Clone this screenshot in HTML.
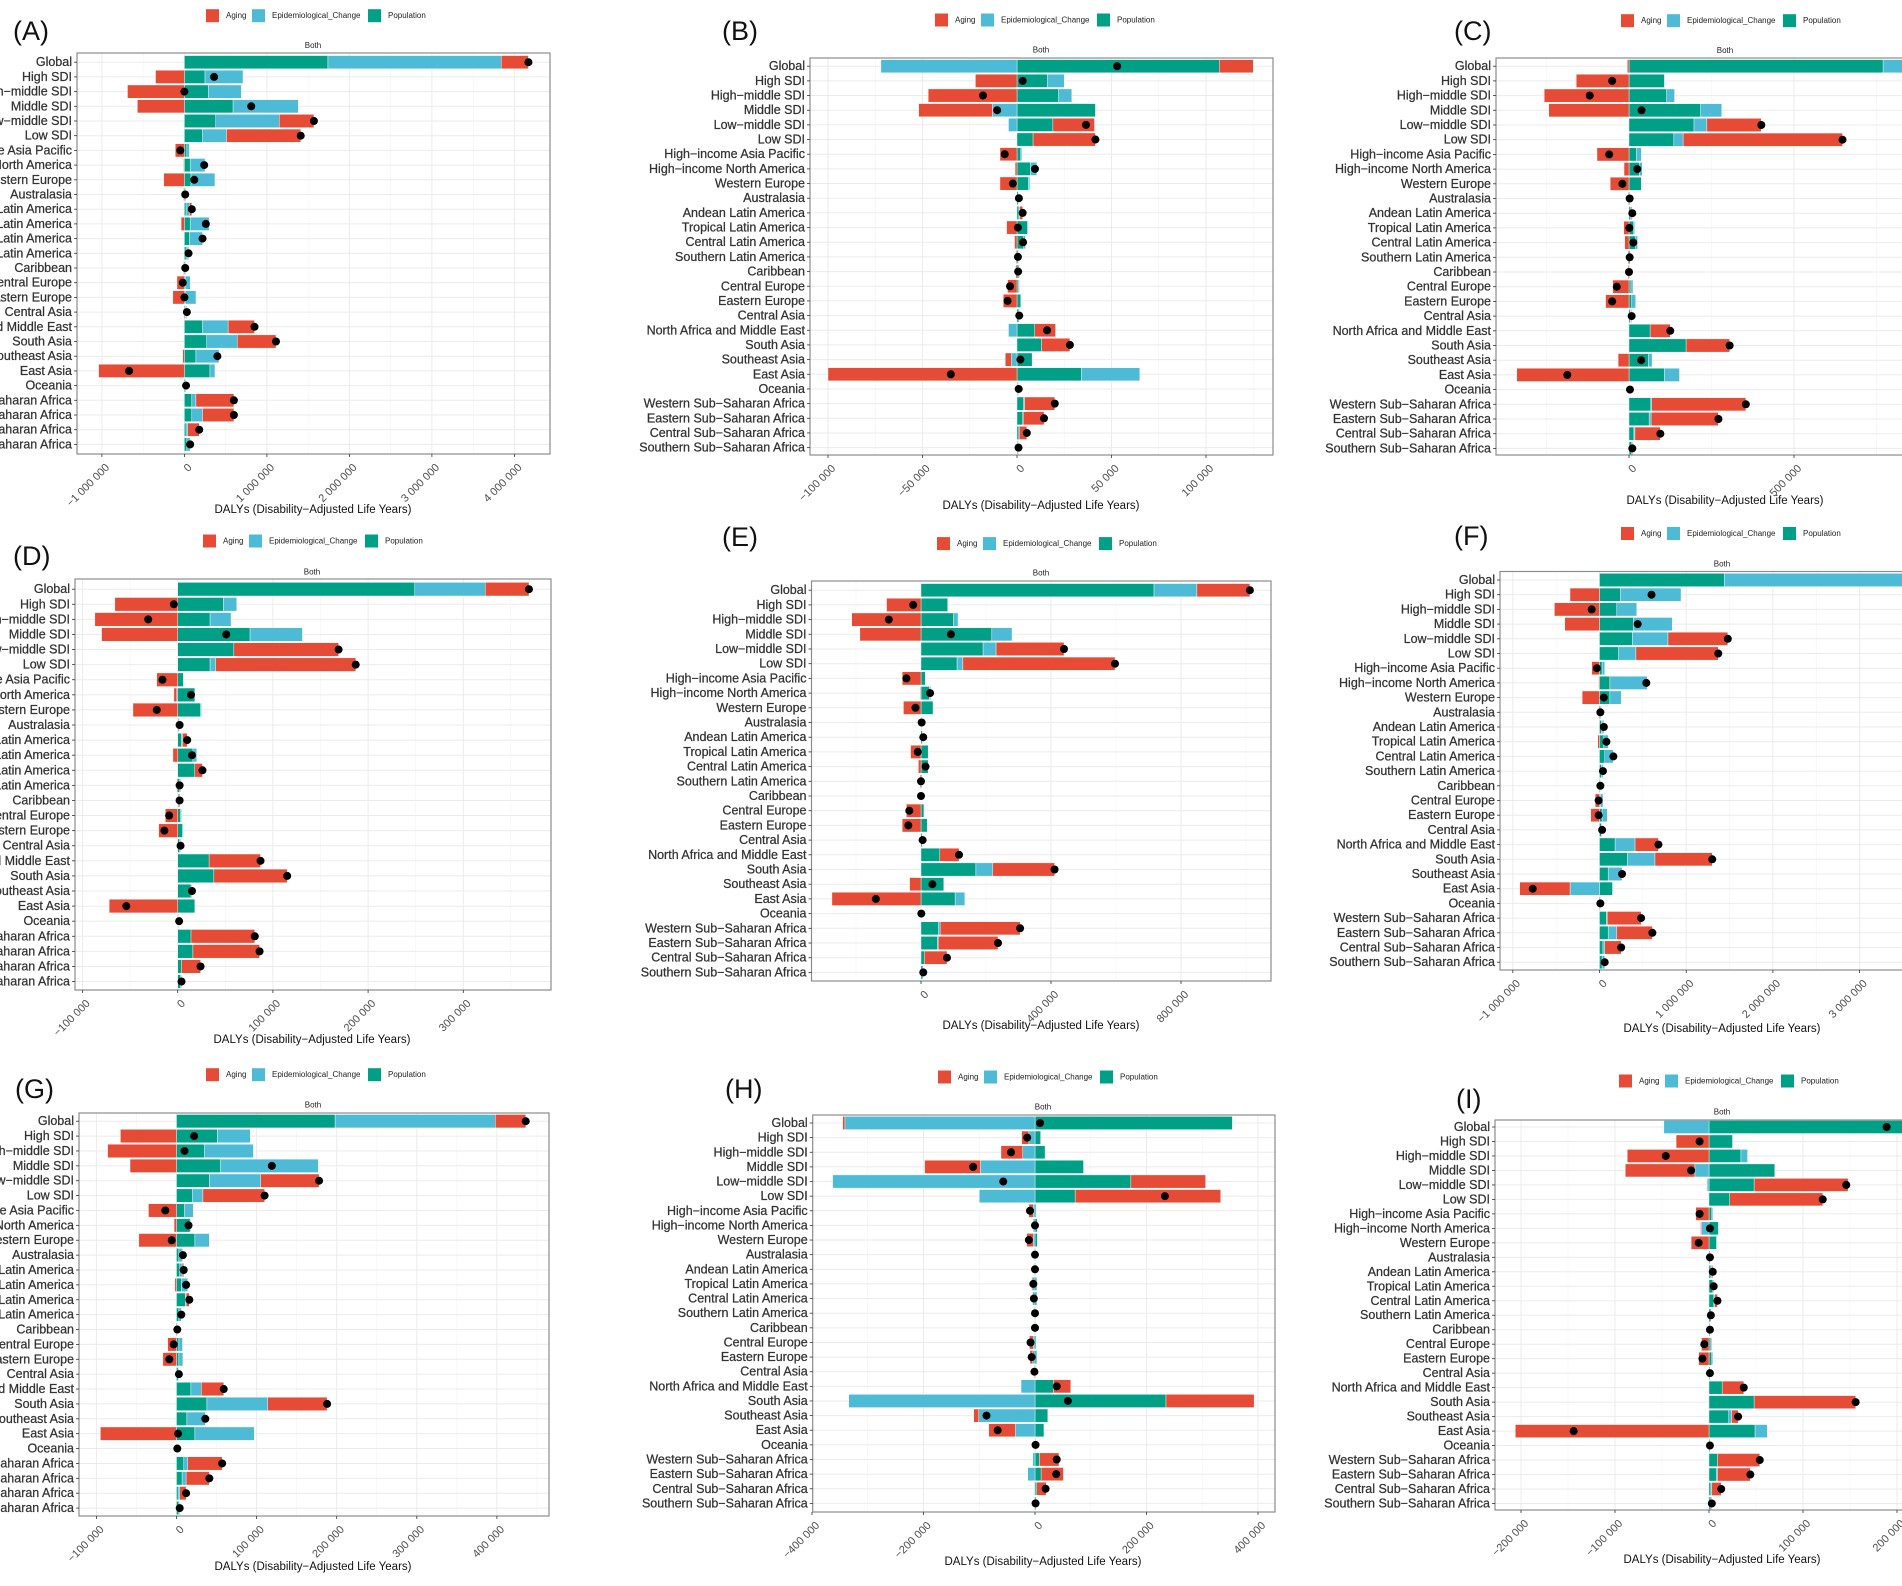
<!DOCTYPE html>
<html><head><meta charset="utf-8"><title>Decomposition of DALYs</title>
<style>
html,body{margin:0;padding:0;background:#fff;}
svg{display:block;font-family:"Liberation Sans",sans-serif;}
</style></head>
<body>
<svg id="fig" width="1902" height="1586" viewBox="0 0 1902 1586" xmlns="http://www.w3.org/2000/svg"></svg>
<script>
const regions=["Global","High SDI","High−middle SDI","Middle SDI","Low−middle SDI","Low SDI","High−income Asia Pacific","High−income North America","Western Europe","Australasia","Andean Latin America","Tropical Latin America","Central Latin America","Southern Latin America","Caribbean","Central Europe","Eastern Europe","Central Asia","North Africa and Middle East","South Asia","Southeast Asia","East Asia","Oceania","Western Sub−Saharan Africa","Eastern Sub−Saharan Africa","Central Sub−Saharan Africa","Southern Sub−Saharan Africa"];
const seriesNames=["Aging","Epidemiological_Change","Population"];

const popA=[1.74,.25,.29,.59,.38,.22,.03,.07,.08,.01,.02,.07,.06,.02,.01,.01,.01,.01,.22,.27,.14,.31,.01,.09,.09,.02,.03];
const epiA=[2.10,.46,.40,.79,.77,.29,.03,.18,.29,.01,.04,.23,.16,.02,.01,.06,.13,.01,.31,.37,.28,.06,.01,.05,.13,.02,.04];
const agingA=[.33,-.35,-.69,-.57,.42,.90,-.11,-.01,-.25,-.01,.03,-.04,0,.01,-.01,-.09,-.14,.01,.32,.47,-.02,-1.04,0,.46,.38,.14,0];
const ticksA=[-1,0,1,2,3,4];
const tickLabelsA=["−1 000 000","0","1 000 000","2 000 000","3 000 000","4 000 000"];

const popB=[107,16,22,41.5,19,8.5,2,7,6,.7,1,5.5,3.5,.8,1,.8,2,1,9.4,13,8,34,.4,3.5,3,1,.5];
const epiB=[-72,9,7,-13,-4.5,0,.5,3.5,.8,.3,.5,.5,1,.2,.3,.5,.3,.2,-4.5,0,-3,31,.2,.5,.3,.2,.3];
const agingB=[18,-22,-47,-39,22,33,-9,-1,-9,0,1.5,-5.5,-1.3,-.5,-.7,-5,-7.3,0,11,15,-3.2,-100,.3,16,11,4,0];
const ticksB=[-100,-50,0,50,100];
const tickLabelsB=["−100 000","−50 000","0","50 000","100 000"];

const popC=[770,107,114,217,197,136,22,31,37,3,5,14,20,4,2,6,8,4,64,173,59,107,1,66,61,15,8];
const epiC=[200,2,24,64,39,28,15,9,0,1,2,3,6,1,1,6,12,2,0,0,11,46,1,3,6,3,3];
const agingC=[-5,-160,-257,-243,165,483,-97,-15,-57,-2,3,-16,-13,-3,-3,-49,-71,2,61,132,-33,-340,1,285,204,77,-1];
const ticksC=[0,500,1000];
const tickLabelsC=["0","500 000","1 000 000"];

const popD=[249,48,34,76,59,34,6,18,24,1,4,16,18,2,1,3,5,2,33,38,14,18,.5,14,16,4,3];
const epiD=[74,14,22,55,0,6,0,-1,1,.5,1,4,0,1,0,1,1,1,0,0,1,0,.5,0,0,0,1];
const agingD=[46,-66,-87,-80,110,147,-22,-3,-47,.5,5,-5,8,-1,1,-13,-20,0,54,77,0,-72,.5,67,70,20,0];
const ticksD=[-100,0,100,200,300];
const tickLabelsD=["−100 000","0","100 000","200 000","300 000"];

const popE=[717,82,100,218,191,111,13,26,37,2,4,22,22,3,1,9,19,4,58,169,70,105,1,54,50,10,6];
const epiE=[132,0,14,62,40,18,0,4,0,1,1,0,0,0,0,0,0,0,0,52,0,30,0,5,3,0,1];
const agingE=[163,-106,-213,-188,209,468,-58,-2,-54,-1,2,-32,-8,-3,-1,-45,-58,1,59,190,-35,-274,0,246,184,70,0];
const ticksE=[0,400,800];
const tickLabelsE=["0","400 000","800 000"];

const popF=[1.44,.24,.20,.39,.38,.22,.03,.12,.12,.01,.02,.05,.06,.02,.01,.01,.03,.02,.18,.32,.10,.15,.01,.08,.10,.04,.03];
const epiF=[2.3,.70,.23,.45,.41,.20,.03,.43,.13,.01,.02,.05,.10,.02,0,.03,.06,.01,.23,.32,.16,-.34,0,.01,.10,.02,.03];
const agingF=[.5,-.34,-.52,-.40,.69,.95,-.09,-.01,-.20,-.01,.01,-.02,0,0,0,-.05,-.10,0,.27,.66,0,-.58,0,.39,.41,.19,0];
const ticksF=[-1,0,1,2,3];
const tickLabelsF=["−1 000 000","0","1 000 000","2 000 000","3 000 000"];

const popG=[198,51,35,55,41,20,10,17,23,3,4,6,11,3,1,3,3,2,18,38,13,23,.5,9,7,2,3];
const epiG=[200,41,61,122,64,13,11,1,18,4,3,8,1,3,0,4.5,5,1,13,76,23,74,.5,5,5,2,1];
const agingG=[38,-70,-86,-58,73,77,-35,-3,-47,1,2,-2,4,0,0,-11,-17,0,28,74,0,-95,0,43,29,8,0];
const ticksG=[-100,0,100,200,300,400];
const tickLabelsG=["−100 000","0","100 000","200 000","300 000","400 000"];

const popH=[354,10,18,87,172,72,2,4,4,1,1,3,3,1,1,2,3,1,33,235,23,16,1,8,11,3,2];
const epiH=[-341,-11,-22,-98,-363,-100,-3,-3,-3,-1,-1,-4,-4,-1,-1,-3,-4,-1,-25,-334,-101,-35,0,-4,-13,-1,-1];
const agingH=[-4,-13,-39,-100,134,261,-8,-1,-12,0,0,-2,-1,0,0,-7,-5,-1,31,158,-9,-48,0,35,40,17,0];
const ticksH=[-400,-200,0,200,400];
const tickLabelsH=["−400 000","−200 000","0","200 000","400 000"];

const popI=[225,25,34,70,48,22,3,10,8,1,2,4,5,2,1,2,3,1,14,48,21,49,1,9,8,2,2];
const epiI=[-48,0,7,-15,-2,0,1,-8,0,0,1,1,1,0,0,1,1,0,0,0,3,13,0,0,1,1,1];
const agingI=[12,-35,-87,-74,100,99,-14,-1,-19,0,1,0,3,0,0,-8,-11,0,23,108,7,-206,0,45,35,10,0];
const ticksI=[-200,-100,0,100,200];
const tickLabelsI=["−200 000","−100 000","0","100 000","200 000"];

const COLORS={aging:"#E64B35",epi:"#4DBBD5",pop:"#00A087"};
const NS="http://www.w3.org/2000/svg";
const svg=document.getElementById("fig");
function mk(tag,attrs,parent){const e=document.createElementNS(NS,tag);for(const k in attrs)e.setAttribute(k,attrs[k]);(parent||svg).appendChild(e);return e;}

const panels=[
 {id:"a",tag:"(A)",pop:popA,epi:epiA,aging:agingA,ticks:ticksA,tl:tickLabelsA,L:77,R:550,T:53,B:454,zero:184.4,s:82.5,y0:62.2,step:14.7,lx:13,ly:31,bx:313,by:45.5,legY:15.7,legX:206,titleY:510},
 {id:"b",tag:"(B)",pop:popB,epi:epiB,aging:agingB,ticks:ticksB,tl:tickLabelsB,L:810,R:1273,T:58,B:455,zero:1017,s:1.89,y0:66.2,step:14.67,lx:722,ly:31,bx:1041,by:50,legY:20,legX:935,titleY:506},
 {id:"c",tag:"(C)",pop:popC,epi:epiC,aging:agingC,ticks:ticksC,tl:tickLabelsC,L:1496,R:1912,T:58,B:455,zero:1629,s:0.33,y0:66.2,step:14.7,lx:1454,ly:31,bx:1725,by:50.6,legY:20.7,legX:1621,titleY:501},
 {id:"d",tag:"(D)",pop:popD,epi:epiD,aging:agingD,ticks:ticksD,tl:tickLabelsD,L:75,R:551,T:579,B:990,zero:177.7,s:0.952,y0:589.2,step:15.09,lx:13,ly:556,bx:312,by:572,legY:541,legX:203,titleY:1040},
 {id:"e",tag:"(E)",pop:popE,epi:epiE,aging:agingE,ticks:ticksE,tl:tickLabelsE,L:811.5,R:1271,T:581,B:981,zero:921,s:0.325,y0:590.2,step:14.7,lx:722,ly:537,bx:1041,by:573,legY:543.6,legX:937,titleY:1026},
 {id:"f",tag:"(F)",pop:popF,epi:epiF,aging:agingF,ticks:ticksF,tl:tickLabelsF,L:1500,R:1912,T:571.5,B:970,zero:1599.5,s:86.7,y0:580,step:14.7,lx:1454,ly:536,bx:1722,by:564,legY:533.5,legX:1621,titleY:1029},
 {id:"g",tag:"(G)",pop:popG,epi:epiG,aging:agingG,ticks:ticksG,tl:tickLabelsG,L:79,R:549,T:1113,B:1516,zero:176.5,s:0.801,y0:1121.2,step:14.88,lx:15,ly:1089,bx:313,by:1105,legY:1074.7,legX:206,titleY:1567},
 {id:"h",tag:"(H)",pop:popH,epi:epiH,aging:agingH,ticks:ticksH,tl:tickLabelsH,L:812.7,R:1275,T:1115,B:1512,zero:1035,s:0.5575,y0:1123,step:14.63,lx:725,ly:1089,bx:1043,by:1107,legY:1077,legX:938,titleY:1562},
 {id:"i",tag:"(I)",pop:popI,epi:epiI,aging:agingI,ticks:ticksI,tl:tickLabelsI,L:1495,R:1912,T:1120,B:1510,zero:1709,s:0.94,y0:1127,step:14.48,lx:1456,ly:1099,bx:1722,by:1112,legY:1081,legX:1619,titleY:1560}
];

panels.forEach(p=>{
  const g=mk("g",{});
  
  
  const xs=v=>p.zero+v*p.s;
  const tg=mk("text",{x:p.lx,y:p.ly,"font-size":27,"font-family":"'Liberation Sans Narrow','Liberation Sans',sans-serif","dominant-baseline":"central",fill:"#111"},g);
  tg.textContent=p.tag;
  
  
  const leg=mk("g",{},g);
  
  
  const items=[["aging",seriesNames[0],0,20],["epi",seriesNames[1],46,66],["pop",seriesNames[2],162,182]];
  items.forEach(it=>{
    const e=mk("g",{},leg);
    
    
    mk("rect",{x:p.legX+it[2],y:p.legY-6.5,width:13,height:13,fill:COLORS[it[0]]},e);
    const t=mk("text",{x:p.legX+it[3],y:p.legY,"font-size":8,"dominant-baseline":"central",fill:"#222"},e);
    t.textContent=it[1];
  });
  const bt=mk("text",{x:p.bx,y:p.by,"font-size":8,"text-anchor":"middle","dominant-baseline":"central",fill:"#222"},g);
  bt.textContent="Both";
  
  
  const cp=mk("clipPath",{id:"clip-"+p.id},g);
  mk("rect",{x:p.L,y:p.T,width:p.R-p.L,height:p.B-p.T},cp);
  const plot=mk("g",{"clip-path":"url(#clip-"+p.id+")"},g);
  
  
  mk("rect",{x:p.L,y:p.T,width:p.R-p.L,height:p.B-p.T,fill:"#fff"},plot);
  const stepT=p.ticks[1]-p.ticks[0];
  for(let k=-2;k<p.ticks.length+2;k++){
    const v=p.ticks[0]+k*stepT;
    mk("line",{x1:xs(v),x2:xs(v),y1:p.T,y2:p.B,stroke:"#ebebeb","stroke-width":1},plot);
    mk("line",{x1:xs(v+stepT/2),x2:xs(v+stepT/2),y1:p.T,y2:p.B,stroke:"#f4f4f4","stroke-width":0.6},plot);
  }
  regions.forEach((r,i)=>{const y=p.y0+i*p.step;mk("line",{x1:p.L,x2:p.R,y1:y,y2:y,stroke:"#ebebeb","stroke-width":1},plot);});
  const bh=p.step*0.9;
  regions.forEach((r,i)=>{
    const y=p.y0+i*p.step;
    let pos=0,neg=0;
    [["pop",p.pop[i]],["epi",p.epi[i]],["aging",p.aging[i]]].forEach(sv=>{
      const v=sv[1];
      let a,b;
      if(v>=0){a=pos;b=pos+v;pos=b;}else{a=neg;b=neg+v;neg=b;}
      const x1=Math.min(xs(a),xs(b)),w=Math.abs(xs(b)-xs(a));
      const rc=mk("rect",{x:x1,y:y-bh/2,width:w,height:bh,fill:COLORS[sv[0]],stroke:"#fff","stroke-width":0.4},plot);
      
      
    });
    const tot=p.pop[i]+p.epi[i]+p.aging[i];
    const d=mk("circle",{cx:xs(tot),cy:y,r:4,fill:"#000"},plot);
    
    
  });
  const bd=mk("rect",{x:p.L,y:p.T,width:p.R-p.L,height:p.B-p.T,fill:"none",stroke:"#8c8c8c","stroke-width":1.2},g);
  
  
  regions.forEach((r,i)=>{
    const y=p.y0+i*p.step;
    mk("line",{x1:p.L-3,x2:p.L,y1:y,y2:y,stroke:"#333","stroke-width":0.8},g);
    const t=mk("text",{x:p.L-5,y:y,"font-size":12.5,"text-anchor":"end","dominant-baseline":"central",fill:"#333",stroke:"#333","stroke-width":0.25},g);
    t.textContent=r;
    
    
  });
  p.ticks.forEach((v,k)=>{
    const x=xs(v);
    if(x<p.L-1||x>p.R+1)return;
    mk("line",{x1:x,x2:x,y1:p.B,y2:p.B+3,stroke:"#333","stroke-width":0.8},g);
    const t=mk("text",{x:x+3,y:p.B+9,"font-size":11,"text-anchor":"end","dominant-baseline":"hanging",fill:"#4d4d4d",transform:"rotate(-45 "+(x+3)+" "+(p.B+9)+")"},g);
    t.textContent=p.tl[k];
    
    
  });
  const xt=mk("text",{x:p.bx,y:p.titleY,"font-size":11.5,"text-anchor":"middle","dominant-baseline":"central",fill:"#111"},g);
  xt.textContent="DALYs (Disability−Adjusted Life Years)";
  
  
});
</script>
</body></html>
